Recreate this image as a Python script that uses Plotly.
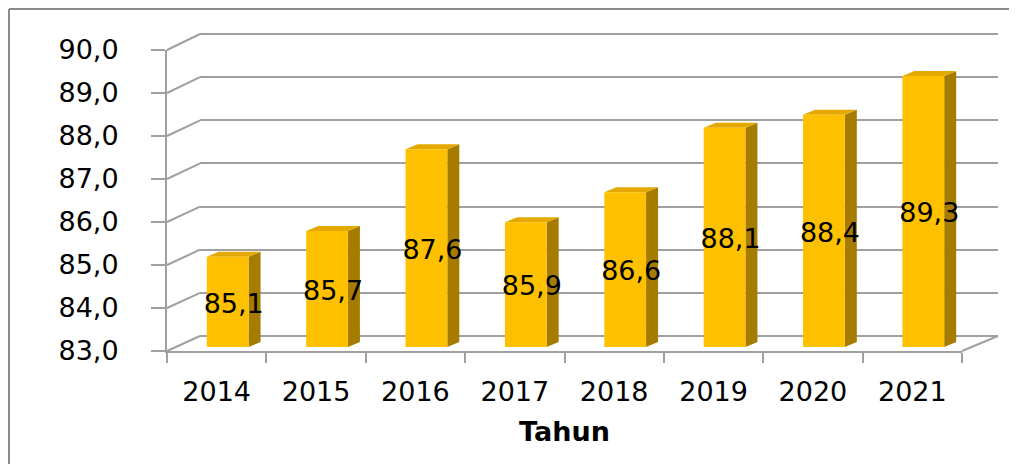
import plotly.graph_objects as go

# ---- data ----
years = ["2014", "2015", "2016", "2017", "2018", "2019", "2020", "2021"]
values = [85.1, 85.7, 87.6, 85.9, 86.6, 88.1, 88.4, 89.3]
y_ticks = [83, 84, 85, 86, 87, 88, 89, 90]
x_title = "Tahun"

# ---- geometry (page pixels; the page body adds an 8px margin all round) ----
PAGE_W, PAGE_H = 1017, 472
OFF = 8
W, H = PAGE_W - 2 * OFF, PAGE_H - 2 * OFF   # figure fits the window without scrollbars
YMIN, YMAX = 83, 90
def px(x): return (x - OFF) / W
def py(y): return 1 - (y - OFF) / H

BACK = dict(x0=200, x1=998, ytop=34, ybot=336)
FRONT = dict(x0=167, x1=962, ytop=50, ybot=351)
BARS = dict(x0=178, x1=973, ytop=46, ybot=347)
TXT_DX, TXT_DY = 6, 4
BAR_W = 0.42
DEPTH_DX, DEPTH_DY = 12, 5  # px of bar depth

GRID = "#A0A0A0"
GOLD = "#FFC000"
SIDE = "#A67C00"
TOP = "#E3A900"
FONT = "DejaVu Sans"

idx = list(range(len(years)))
n = len(years)

fig = go.Figure()
fig.add_trace(go.Scatter(x=[], y=[], xaxis="x", yaxis="y", showlegend=False, hoverinfo="skip"))
fig.add_trace(go.Scatter(x=years, y=values, mode="none", xaxis="x2", yaxis="y2",
                         showlegend=False, hoverinfo="skip"))
fig.add_trace(go.Bar(x=idx, y=values, width=BAR_W, xaxis="x3", yaxis="y3",
                     marker=dict(color=GOLD, line=dict(width=0)), showlegend=False))
fig.add_trace(go.Scatter(x=idx, y=[(YMIN + v) / 2 for v in values], mode="text",
                         text=[f"{v:.1f}".replace(".", ",") for v in values],
                         textposition="middle center",
                         textfont=dict(family=FONT, size=27, color="#000"),
                         xaxis="x4", yaxis="y4", showlegend=False, hoverinfo="skip"))

shapes = []
ux = (BARS["x1"] - BARS["x0"]) / n
uy = (BARS["ybot"] - BARS["ytop"]) / (YMAX - YMIN)
ddx = DEPTH_DX / ux
ddy = DEPTH_DY / uy
for i, v in zip(idx, values):
    r = i + BAR_W / 2
    l = i - BAR_W / 2
    shapes.append(dict(type="path", xref="x3", yref="y3", layer="between",
                       path=f"M{r},{YMIN} L{r},{v} L{r+ddx},{v+ddy} L{r+ddx},{YMIN+ddy} Z",
                       fillcolor=SIDE, line=dict(width=0)))
    shapes.append(dict(type="path", xref="x3", yref="y3", layer="between",
                       path=f"M{l},{v} L{r},{v} L{r+ddx},{v+ddy} L{l+ddx},{v+ddy} Z",
                       fillcolor=TOP, line=dict(width=0)))

def fy(v, d): return d["ybot"] - (v - YMIN) * (d["ybot"] - d["ytop"]) / (YMAX - YMIN)
for v in y_ticks:
    shapes.append(dict(type="line", xref="paper", yref="paper", layer="above",
                       x0=px(FRONT["x0"]), y0=py(fy(v, FRONT)),
                       x1=px(BACK["x0"]), y1=py(fy(v, BACK)),
                       line=dict(color=GRID, width=2)))
shapes.append(dict(type="line", xref="paper", yref="paper", layer="above",
                   x0=px(FRONT["x1"]), y0=py(FRONT["ybot"]),
                   x1=px(BACK["x1"]), y1=py(BACK["ybot"]),
                   line=dict(color=GRID, width=2)))
# outer frame (left and top edges visible)
shapes.append(dict(type="line", xref="paper", yref="paper", layer="above",
                   x0=px(9), x1=px(9), y0=-0.05, y1=py(9),
                   line=dict(color="#8C8C8C", width=2)))
shapes.append(dict(type="line", xref="paper", yref="paper", layer="above",
                   x0=px(9), x1=1.05, y0=py(9), y1=py(9),
                   line=dict(color="#8C8C8C", width=2)))

# back wall axis padded so the edge grid lines are drawn
PAD = 0.05
ub = (BACK["ybot"] - BACK["ytop"]) / (YMAX - YMIN)

fig.update_layout(
    width=W, height=H,
    margin=dict(l=0, r=0, t=0, b=0, pad=0, autoexpand=False),
    paper_bgcolor="white", plot_bgcolor="rgba(0,0,0,0)",
    separators=",.",
    font=dict(family=FONT, color="#000"),
    shapes=shapes,
    xaxis=dict(domain=[px(BACK["x0"]), px(BACK["x1"])], range=[0, 1], visible=False, anchor="y",
               automargin=False),
    yaxis=dict(domain=[py(BACK["ybot"] + PAD * ub), py(BACK["ytop"] - PAD * ub)],
               range=[YMIN - PAD, YMAX + PAD],
               anchor="x", showgrid=True, gridcolor=GRID, gridwidth=2, tickvals=y_ticks,
               showticklabels=False, ticks="", zeroline=False, showline=False, automargin=False),
    xaxis2=dict(domain=[px(FRONT["x0"]), px(FRONT["x1"])], anchor="y2", type="category",
                categoryorder="array", categoryarray=years, range=[-0.5, n - 0.5],
                showline=True, linecolor=GRID, linewidth=2, showgrid=False, automargin=False,
                ticks="outside", tickson="boundaries", ticklen=10, tickwidth=2, tickcolor=GRID,
                tickfont=dict(family=FONT, size=27, color="#000"), ticklabelstandoff=16,
                title=dict(text=f"<b>{x_title}</b>", font=dict(family=FONT, size=27, color="#000"),
                           standoff=16)),
    yaxis2=dict(domain=[py(FRONT["ybot"]), py(FRONT["ytop"])], anchor="x2", automargin=False,
                range=[YMIN, YMAX], tickvals=y_ticks, tickformat=".1f",
                showline=True, linecolor=GRID, linewidth=2, showgrid=False, zeroline=False,
                ticks="outside", ticklen=14, tickwidth=2, tickcolor=GRID,
                tickfont=dict(family=FONT, size=27, color="#000"), ticklabelstandoff=27),
    xaxis3=dict(domain=[px(BARS["x0"]), px(BARS["x1"])], anchor="y3", range=[-0.5, n - 0.5],
                visible=False, automargin=False),
    yaxis3=dict(domain=[py(BARS["ybot"]), py(BARS["ytop"])], anchor="x3", range=[YMIN, YMAX],
                visible=False, automargin=False),
    xaxis4=dict(domain=[px(BARS["x0"] + TXT_DX), px(BARS["x1"] + TXT_DX)], anchor="y4",
                range=[-0.5, n - 0.5], visible=False, automargin=False),
    yaxis4=dict(domain=[py(BARS["ybot"] + TXT_DY), py(BARS["ytop"] + TXT_DY)], anchor="x4",
                range=[YMIN, YMAX], visible=False, automargin=False),
    showlegend=False,
)

fig.write_html("out.html")
